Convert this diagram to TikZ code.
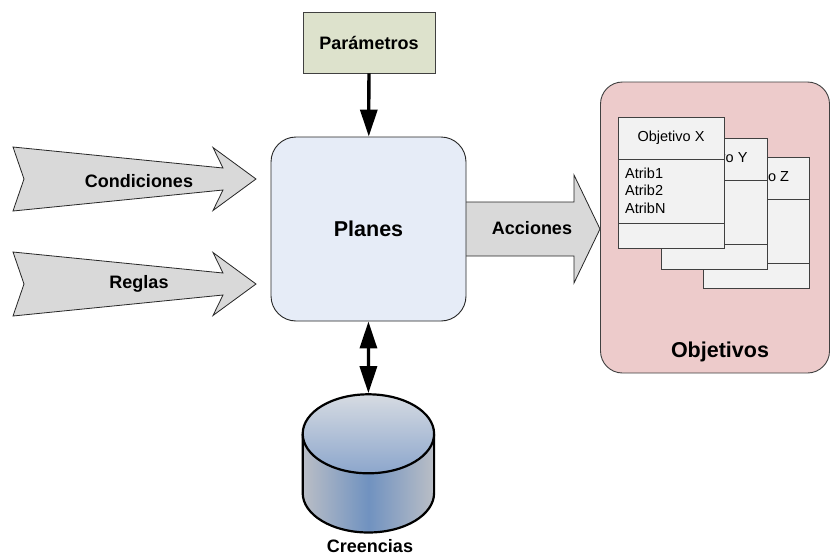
\documentclass[tikz,border=0pt]{standalone}
\usepackage{fontspec}
\setmainfont{Liberation Sans}
\usetikzlibrary{arrows.meta}

\definecolor{paramfill}{RGB}{221,226,204}
\definecolor{planfill}{RGB}{230,236,247}
\definecolor{flowfill}{RGB}{217,217,217}
\definecolor{goalfill}{RGB}{237,203,203}
\definecolor{cardfill}{RGB}{242,242,242}
\definecolor{edgegray}{RGB}{64,64,64}
\definecolor{cylgray}{RGB}{186,190,198}
\definecolor{cylblue}{RGB}{112,146,192}
\definecolor{captop}{RGB}{214,219,226}
\definecolor{capbot}{RGB}{140,166,204}

\tikzset{
  boldtxt/.style={font=\fontsize{18}{20}\selectfont\bfseries, inner sep=0pt},
  bigtxt/.style={font=\fontsize{21.5}{24}\selectfont\bfseries, inner sep=0pt},
  cardtxt/.style={font=\fontsize{14.5}{16}\selectfont, inner sep=0pt},
  flow/.style={fill=flowfill, draw=black!85, line width=0.8pt, line join=miter},
  link/.style={line width=3.3pt, black},
  bighead/.tip={Triangle[length=27pt, width=17pt]},
  card/.style={fill=cardfill, draw=edgegray, line width=0.9pt},
  inflow/.pic={
    \draw[flow] (0,-32) -- (210,-11) -- (200,-31.5) -- (243,0) -- (200,31.5)
      -- (210,11) -- (0,32) -- (11,0) -- cycle;
  },
}

% one class card of the goal stack: #1,#2 = top-left corner, #3 = letter
\newcommand\goalcard[3]{%
  \draw[card] (#1,#2) rectangle ++(106,131);
  \draw[edgegray, line width=0.9pt] (#1,#2+42) -- ++(106,0) (#1,#2+106) -- ++(106,0);
  \node[cardtxt] (title#3) at (#1+53,#2+21) {Objetivo #3};
}

\begin{document}
\begin{tikzpicture}[x=1pt, y=-1pt]
  \useasboundingbox[fill=white] (0,0) rectangle (831,557);

  % incoming block arrows
  \pic (condarrow) at (13,179) {inflow};
  \pic (reglarrow) at (13,284) {inflow};
  \node[boldtxt] (condiciones) at (139,181) {Condiciones};
  \node[boldtxt] (reglas) at (139,284) {Reglas};

  % outgoing block arrow (starts under the plan box)
  \draw[flow] (460,202) -- (574,202) -- (574,175) -- (600,229) -- (574,283)
    -- (574,256) -- (460,256) -- cycle;
  \node[boldtxt] (acciones) at (532,228) {Acciones};

  % plan box and parameters
  \node[draw=black!85, line width=0.9pt, fill=planfill, rounded corners=25pt,
        minimum width=195pt, minimum height=184pt, bigtxt] (planes) at (368.5,229) {Planes};
  \node[draw=edgegray, line width=0.9pt, fill=paramfill,
        minimum width=132pt, minimum height=61pt, boldtxt] (param) at (369,42.5) {Parámetros};
  \draw[link, -bighead] (param) -- (planes);

  % goal container with stacked cards
  \node[draw=edgegray, line width=0.9pt, fill=goalfill, rounded corners=22pt,
        minimum width=229pt, minimum height=291pt] (objetivos) at (715,227.5) {};
  \node[bigtxt] (objlabel) at (720,352) {Objetivos};
  \goalcard{703}{157}{Z}
  \goalcard{661}{138}{Y}
  \goalcard{618}{117}{X}
  \node[cardtxt, anchor=west] (atr1) at (625,173) {Atrib1};
  \node[cardtxt, anchor=west] (atr2) at (625,190.5) {Atrib2};
  \node[cardtxt, anchor=west] (atrn) at (625,208) {AtribN};

  % belief store cylinder
  \shade[left color=cylgray, right color=cylgray, middle color=cylblue]
    (302.7,433.8) -- (302.7,493) arc[start angle=180, end angle=0, x radius=65.7, y radius=39.5]
    -- (434.1,433.8) -- cycle;
  \draw[line width=2.2pt] (302.7,433.8) -- (302.7,493)
    arc[start angle=180, end angle=0, x radius=65.7, y radius=39.5] -- (434.1,433.8);
  \shade[top color=captop, bottom color=capbot] (368.4,433.8) ellipse[x radius=65.7, y radius=39.5];
  \draw[line width=2.2pt] (368.4,433.8) ellipse[x radius=65.7, y radius=39.5];
  \coordinate (cyltop) at (368.4,393.2);
  \node[boldtxt] (creencias) at (370,546) {Creencias};

  \draw[link, bighead-bighead] (planes) -- (cyltop);
\end{tikzpicture}
\end{document}
